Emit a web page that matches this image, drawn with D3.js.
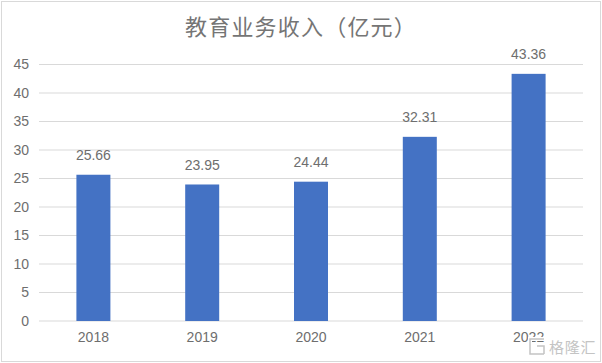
<!DOCTYPE html>
<html>
<head>
<meta charset="utf-8">
<script src="https://d3js.org/d3.v7.min.js"></script>
<style>
  html, body { margin: 0; padding: 0; background: #fff; }
  svg { display: block; }
  text { font-family: "Noto Sans CJK SC", "Noto Sans", sans-serif; }
  .axis text, .label { font-size: 14px; fill: #6e6e6e; font-family: "Liberation Sans", sans-serif; }
  .axis path, .axis line { stroke: none; }
</style>
</head>
<body>
<script>
const years = ['2018', '2019', '2020', '2021', '2022'];
const revenue = [25.66, 23.95, 24.44, 32.31, 43.36];
const yTicks = [0, 5, 10, 15, 20, 25, 30, 35, 40, 45];
const chartTitle = '教育业务收入（亿元）';
const watermark = '格隆汇';

const width = 602, height = 363;
const margin = { top: 64.5, right: 19, bottom: 42, left: 39 };
const chartWidth = width - margin.left - margin.right;
const chartHeight = height - margin.top - margin.bottom;

const svg = d3.select('body').append('svg')
  .attr('width', width)
  .attr('height', height);

// outer frame
svg.append('rect')
  .attr('x', 1.5).attr('y', 1.5)
  .attr('width', width - 3).attr('height', height - 3)
  .attr('fill', '#fff')
  .attr('stroke', '#d9d9d9');

svg.append('text')
  .attr('x', 185).attr('y', 35)
  .attr('font-size', 22)
  .attr('letter-spacing', 1.2)
  .attr('fill', '#757575')
  .text(chartTitle);

const chartGroup = svg.append('g')
  .attr('transform', 'translate(' + margin.left + ',' + margin.top + ')');

const xScale = d3.scaleBand().domain(years).range([0, chartWidth])
  .paddingInner(0.6875).paddingOuter(0.34375);
const yScale = d3.scaleLinear().domain([0, 45]).range([chartHeight, 0]);

// gridlines
chartGroup.selectAll('.grid').data(yTicks).enter().append('line')
  .attr('class', 'grid')
  .attr('x1', 0).attr('x2', chartWidth)
  .attr('y1', d => yScale(d))
  .attr('y2', d => yScale(d))
  .attr('stroke', '#d9d9d9');

chartGroup.selectAll('.bar').data(revenue).enter().append('rect')
  .attr('class', 'bar')
  .attr('x', (d, i) => xScale(years[i]))
  .attr('y', d => yScale(d))
  .attr('width', xScale.bandwidth())
  .attr('height', d => chartHeight - yScale(d))
  .attr('fill', '#4472c4');

chartGroup.selectAll('.label').data(revenue).enter().append('text')
  .attr('class', 'label')
  .attr('x', (d, i) => xScale(years[i]) + xScale.bandwidth() / 2)
  .attr('y', d => yScale(d) - 14.5)
  .attr('text-anchor', 'middle')
  .text(d => d.toFixed(2));

chartGroup.append('g')
  .attr('class', 'axis')
  .attr('transform', 'translate(0,' + chartHeight + ')')
  .call(d3.axisBottom(xScale).tickSize(0).tickPadding(11));

chartGroup.append('g')
  .attr('class', 'axis')
  .call(d3.axisLeft(yScale).tickValues(yTicks).tickSize(0).tickPadding(10));

// watermark over the bottom right corner
const mark = svg.append('g');
mark.append('path')
  .attr('d', 'M544 339H530V354H544M537 346H544V354')
  .attr('fill', 'none').attr('stroke', '#fff').attr('stroke-width', 4);
mark.append('path')
  .attr('d', 'M544 339H530V354H544M537 346H544V354')
  .attr('fill', 'none').attr('stroke', '#c4c4c4').attr('stroke-width', 1.5);
mark.append('text')
  .attr('x', 549).attr('y', 353)
  .attr('font-size', 15)
  .attr('letter-spacing', 0.8)
  .attr('fill', '#c4c4c4')
  .attr('stroke', '#fff')
  .attr('stroke-width', 2)
  .attr('paint-order', 'stroke')
  .text(watermark);
</script>
</body>
</html>
